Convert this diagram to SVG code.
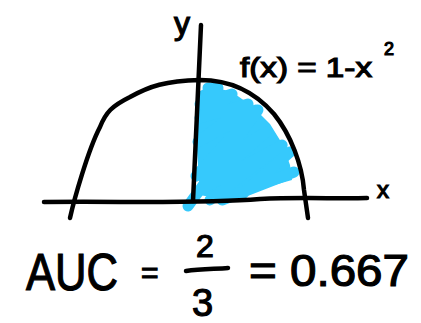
<svg xmlns="http://www.w3.org/2000/svg" width="421" height="323" viewBox="0 0 421 323">
<style>
.ink{fill:none;stroke:#000;stroke-width:4.5;stroke-linecap:round;stroke-linejoin:round}
.blue{fill:none;stroke:#36c9fc;stroke-width:11;stroke-linecap:round;stroke-linejoin:round}
.t{font-family:"Liberation Sans",Arial,sans-serif;fill:#000;stroke:#000;stroke-width:1.2}
</style>
<rect width="421" height="323" fill="#fff"/>
<g id="shading">
<path d="M198,92 L210,86 L232,92 L252,106 L270,124 L283,145 L290,165 L292,180 L278,184 L250,190 L225,200 L200,195 L197,150 Z" fill="#36c9fc"/>
<path class="blue" d="M208,88 L218,88 L200,104 L232,94 L200,118 L248,104 L198,142 L256,110 L196,176 L266,132 L200,190 L282,145 L210,200 M258,110 L188,206 M290,152 L240,196 M294,172 L222,200"/>
</g>
<g id="axes">
<path class="ink" d="M201,25 L193,201"/>
<path class="ink" d="M44,202 C120,201 200,204 260,199 C300,197 340,199 367,198"/>
</g>
<g id="curve">
<path class="ink" d="M70,218 C74,200 88,150 100,127 C106,112 112,106 130,97 C150,86 165,81 200,80 C230,80 255,92 274,114 C291,135 302,165 304,190 L308,218"/>
</g>
<g id="labels">
<text class="t" x="174" y="34" font-size="32">y</text>
<text class="t" x="377" y="198" font-size="24">x</text>
<text class="t" x="240" y="77" font-size="28" textLength="132" lengthAdjust="spacingAndGlyphs">f(x) = 1-x</text>
<text class="t" x="384" y="55" font-size="18">2</text>
<text class="t" x="26" y="290" font-size="52" textLength="92" lengthAdjust="spacingAndGlyphs">AUC</text>
<text class="t" x="141" y="283" font-size="30">=</text>
<text class="t" x="196" y="257" font-size="32">2</text>
<path class="ink" d="M186,271 C200,269 215,269 228,268"/>
<text class="t" x="192" y="316" font-size="38">3</text>
<text class="t" x="249" y="286" font-size="44" textLength="160" lengthAdjust="spacingAndGlyphs">= 0.667</text>
</g>
</svg>
